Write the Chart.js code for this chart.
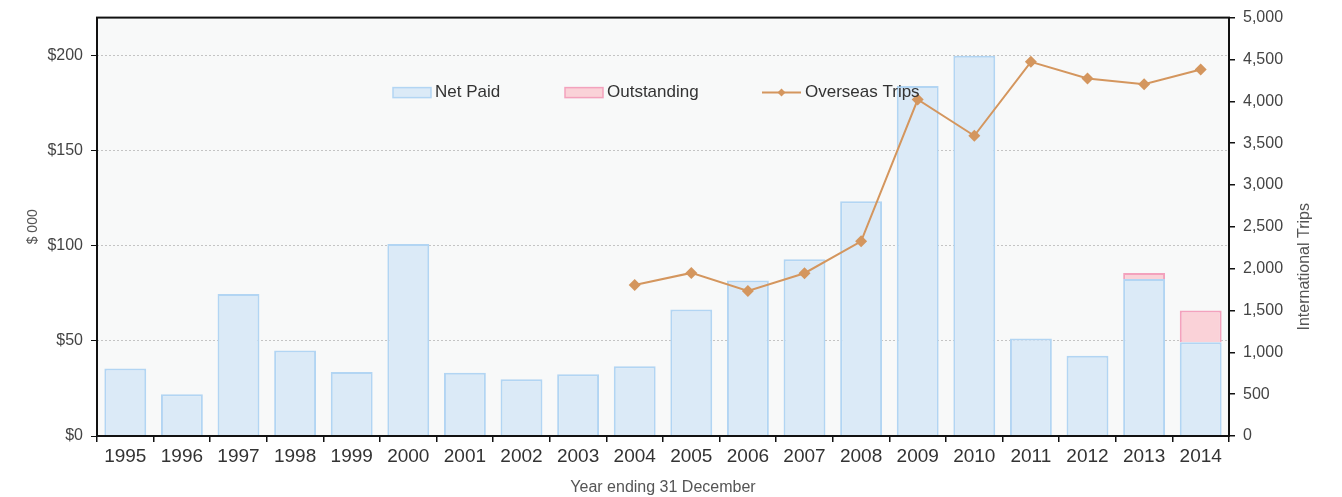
<!DOCTYPE html>
<html>
<head>
<meta charset="utf-8">
<script src="https://cdn.jsdelivr.net/npm/chart.js@4.4.0/dist/chart.umd.min.js"></script>
<style>
  html, body { margin: 0; padding: 0; background: #fff; }
  #wrap { width: 1342px; height: 497px; position: relative; }
</style>
</head>
<body>
<div id="wrap"><canvas id="chart"></canvas></div>
<script>
// Data
const years = ['1995', '1996', '1997', '1998', '1999', '2000', '2001', '2002', '2003', '2004',
               '2005', '2006', '2007', '2008', '2009', '2010', '2011', '2012', '2013', '2014'];
const netPaid = [35.5, 22, 74.7, 45, 33.6, 101, 33.2, 29.8, 32.5, 36.7,
                 66.5, 81.7, 93, 123.4, 184, 200, 51.3, 42.2, 82.6, 49.3];
const outstanding = [0, 0, 0, 0, 0, 0, 0, 0, 0, 0,
                     0, 0, 0, 0, 0, 0, 0, 0, 3.1, 16.7];
const overseasTrips = [null, null, null, null, null, null, null, null, null, 1805,
                       1949, 1734, 1945, 2327, 4021, 3588, 4471, 4272, 4204, 4380];

const FONT = "'Liberation Sans', Arial, sans-serif";
const PAID_FILL = '#dbeaf7', PAID_EDGE = '#b2d5f3';
const OUT_FILL = '#fad2d8', OUT_EDGE = '#f3a2bd';
const TRIP = '#d4965e';

// plot background + frame + in-plot legend + right axis title (reads upward)
const framePlugin = {
  id: 'frame',
  beforeDraw(chart) {
    const { ctx, chartArea: a } = chart;
    ctx.save();
    ctx.fillStyle = '#f8f9f9';
    ctx.fillRect(a.left, a.top, a.right - a.left, a.bottom - a.top);
    ctx.restore();
  },
  afterDraw(chart) {
    const { ctx, chartArea: a } = chart;
    ctx.save();
    ctx.strokeStyle = '#111';
    ctx.lineWidth = 2;
    ctx.strokeRect(a.left, a.top, a.right - a.left, a.bottom - a.top);

    // right axis title
    ctx.save();
    ctx.translate(a.right + 76, (a.top + a.bottom) / 2 + 40);
    ctx.rotate(-Math.PI / 2);
    ctx.font = '16px ' + FONT;
    ctx.fillStyle = '#555';
    ctx.textAlign = 'center';
    ctx.textBaseline = 'middle';
    ctx.fillText('International Trips', 0, 0);
    ctx.restore();

    // legend
    const y = a.top + 75;
    ctx.font = '17px ' + FONT;
    ctx.textBaseline = 'middle';
    ctx.lineWidth = 1.5;
    const boxes = [
      { x: a.left + 296, fill: PAID_FILL, edge: PAID_EDGE, label: 'Net Paid' },
      { x: a.left + 468, fill: OUT_FILL, edge: OUT_EDGE, label: 'Outstanding' },
    ];
    boxes.forEach(b => {
      ctx.fillStyle = b.fill;
      ctx.fillRect(b.x, y - 5, 38, 10);
      ctx.strokeStyle = b.edge;
      ctx.strokeRect(b.x, y - 5, 38, 10);
      ctx.fillStyle = '#333';
      ctx.fillText(b.label, b.x + 42, y);
    });
    const lx = a.left + 665;
    ctx.strokeStyle = TRIP;
    ctx.lineWidth = 2;
    ctx.beginPath();
    ctx.moveTo(lx, y);
    ctx.lineTo(lx + 39, y);
    ctx.stroke();
    ctx.fillStyle = TRIP;
    ctx.beginPath();
    ctx.moveTo(lx + 19.5, y - 4);
    ctx.lineTo(lx + 23.5, y);
    ctx.lineTo(lx + 19.5, y + 4);
    ctx.lineTo(lx + 15.5, y);
    ctx.closePath();
    ctx.fill();
    ctx.fillStyle = '#333';
    ctx.fillText('Overseas Trips', lx + 43, y);
    ctx.restore();
  }
};

new Chart(document.getElementById('chart'), {
  type: 'bar',
  data: {
    labels: years,
    datasets: [
      {
        type: 'line',
        label: 'Overseas Trips',
        data: overseasTrips,
        yAxisID: 'y1',
        borderColor: TRIP,
        backgroundColor: TRIP,
        borderWidth: 2,
        pointStyle: 'rectRot',
        pointRadius: 6,
        pointBorderWidth: 0,
        tension: 0,
        order: 0,
      },
      {
        label: 'Net Paid',
        data: netPaid,
        yAxisID: 'y',
        backgroundColor: PAID_FILL,
        borderColor: PAID_EDGE,
        borderWidth: 2,
        barPercentage: 0.74,
        categoryPercentage: 1,
        order: 1,
      },
      {
        label: 'Outstanding',
        data: outstanding,
        yAxisID: 'y',
        backgroundColor: OUT_FILL,
        borderColor: OUT_EDGE,
        borderWidth: 2,
        barPercentage: 0.74,
        categoryPercentage: 1,
        order: 1,
      },
    ],
  },
  options: {
    responsive: true,
    maintainAspectRatio: false,
    animation: false,
    layout: { padding: { top: 17, left: 0, right: 0, bottom: 0 } },
    plugins: {
      legend: { display: false },
      tooltip: { enabled: false },
    },
    scales: {
      x: {
        stacked: true,
        offset: true,
        grid: { offset: true, drawOnChartArea: false, color: '#111', tickLength: 6, lineWidth: 1.5 },
        border: { display: false },
        ticks: { color: '#333', font: { family: FONT, size: 19 }, padding: 3, maxRotation: 0 },
        title: { display: true, text: 'Year ending 31 December', color: '#555',
                 font: { family: FONT, size: 16 }, padding: { top: 0, bottom: 0 } },
        afterFit: s => { s.height = 61; },
      },
      y: {
        stacked: true,
        position: 'left',
        min: 0,
        max: 220,
        ticks: { stepSize: 50, color: '#444', font: { family: FONT, size: 16 }, padding: 8,
                 callback: v => '$' + v },
        afterBuildTicks: s => { s.ticks = s.ticks.filter(t => t.value <= 200); },
        grid: {
          color: c => c.tick && c.tick.value === 0 ? 'rgba(0,0,0,0)' : '#c4c4c4',
          tickColor: '#111',
          tickLength: 6,
          lineWidth: 1,
        },
        border: { display: false, dash: [2, 2] },
        title: { display: true, text: '$ 000', color: '#555',
                 font: { family: FONT, size: 14 }, padding: { top: 25, bottom: 0 } },
        afterFit: s => { s.width = 97; },
      },
      y1: {
        position: 'right',
        min: 0,
        max: 5000,
        ticks: { stepSize: 500, color: '#444', font: { family: FONT, size: 16 }, padding: 8,
                 callback: v => v.toLocaleString('en-US') },
        grid: { drawOnChartArea: false, color: '#111', tickLength: 6, lineWidth: 1.5 },
        border: { display: false },
        afterFit: s => { s.width = 113; },
      },
    },
  },
  plugins: [framePlugin],
});
</script>
</body>
</html>
